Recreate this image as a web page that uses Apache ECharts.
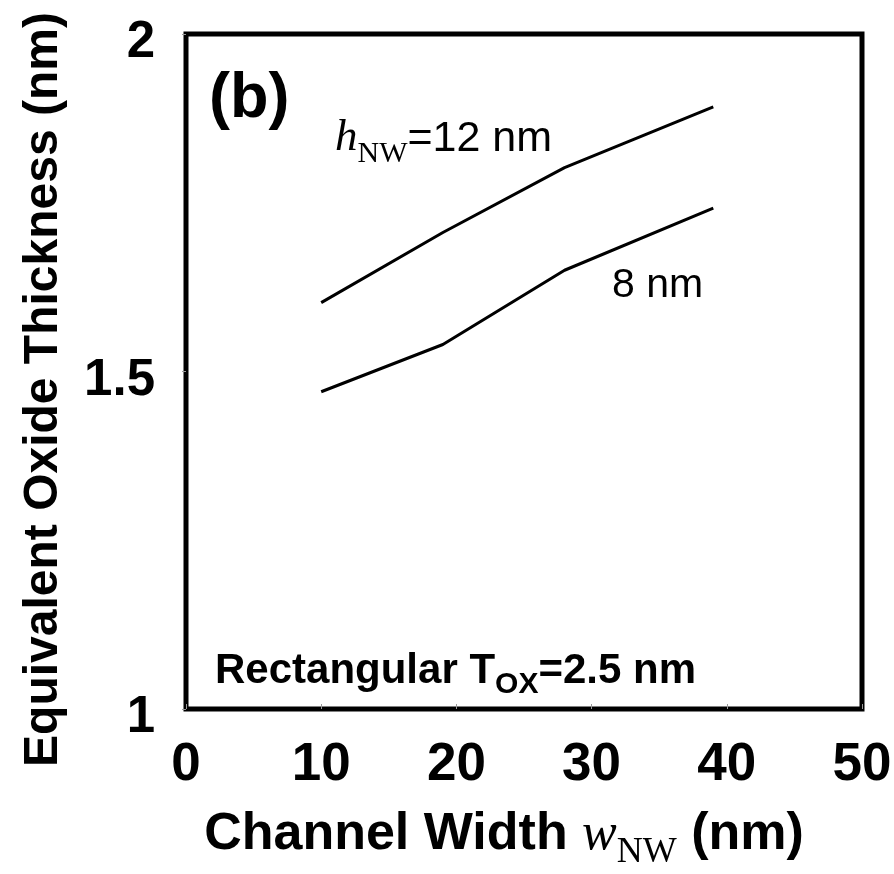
<!DOCTYPE html>
<html>
<head>
<meta charset="utf-8">
<script src="https://cdn.jsdelivr.net/npm/echarts@6/dist/echarts.min.js"></script>
<style>
  html, body { margin: 0; padding: 0; background: #fff; }
  #chart { width: 894px; height: 874px; }
</style>
</head>
<body>
<div id="chart"></div>
<script>
// channel width w_NW (nm)
const widthNW = [10, 19, 28, 39];
// EOT for h_NW = 12 nm and 8 nm
const eot12 = [1.602, 1.706, 1.802, 1.892];
const eot8 = [1.470, 1.540, 1.650, 1.742];
const xTicks = [0, 10, 20, 30, 40, 50];
const yTicks = [1, 1.5, 2];

const SANS = 'Arial, "Liberation Sans", sans-serif';
const SERIF = '"Times New Roman", "Liberation Serif", serif';

function pairs(xs, ys) {
  return xs.map(function (x, i) { return [x, ys[i]]; });
}

const chart = echarts.init(document.getElementById('chart'), null, { renderer: 'canvas' });

const option = {
  backgroundColor: '#fff',
  animation: false,
  grid: {
    left: 186, right: 32, top: 34, bottom: 165,
    containLabel: false, outerBoundsMode: 'none',
    show: true, borderColor: '#000', borderWidth: 5, backgroundColor: 'transparent'
  },
  xAxis: {
    type: 'value',
    min: xTicks[0], max: xTicks[xTicks.length - 1], interval: 10,
    splitLine: { show: false },
    axisLine: { show: false },
    axisTick: { show: true, inside: true, length: 5, lineStyle: { color: '#999', width: 1 } },
    axisLabel: { color: '#000', fontSize: 53, fontWeight: 'bold', fontFamily: SANS, margin: 30 },
    name: '{a|Channel Width }{i|w}{s|NW}{a| (nm)}',
    nameLocation: 'middle',
    nameGap: 110,
    nameTextStyle: {
      padding: [0, 40, 0, 0],
      rich: {
        a: { fontSize: 52, fontWeight: 'bold', fontFamily: SANS, color: '#000', lineHeight: 52, padding: [0, 0, 10, 0], verticalAlign: 'bottom' },
        i: { fontSize: 52, fontStyle: 'italic', fontFamily: SERIF, color: '#000', lineHeight: 52, padding: [0, 0, 10, 0], verticalAlign: 'bottom' },
        s: { fontSize: 36, fontFamily: SERIF, color: '#000', lineHeight: 36, verticalAlign: 'bottom' }
      }
    }
  },
  yAxis: {
    type: 'value',
    min: yTicks[0], max: yTicks[yTicks.length - 1], interval: 0.5,
    splitLine: { show: false },
    axisLine: { show: false },
    axisTick: { show: true, inside: false, length: 4, lineStyle: { color: '#999', width: 1 } },
    axisLabel: {
      margin: 31,
      formatter: function (v) { return '{v|' + v + '}'; },
      rich: {
        v: { color: '#000', fontSize: 51, fontWeight: 'bold', fontFamily: SANS, lineHeight: 51, padding: [18, 0, 0, 0] }
      }
    },
    name: 'Equivalent Oxide Thickness (nm)',
    nameLocation: 'middle',
    nameGap: 118,
    nameTextStyle: { color: '#000', fontSize: 48, fontWeight: 'bold', fontFamily: SANS, padding: [0, 36, 0, 0] }
  },
  series: [
    {
      name: 'hNW=12 nm', type: 'line', data: pairs(widthNW, eot12),
      symbol: 'none', lineStyle: { color: '#000', width: 3 }
    },
    {
      name: '8 nm', type: 'line', data: pairs(widthNW, eot8),
      symbol: 'none', lineStyle: { color: '#000', width: 3 }
    }
  ],
  graphic: [
    {
      type: 'text', left: 209, top: 68,
      style: { text: '(b)', font: 'bold 63px ' + SANS, fill: '#000' }
    },
    {
      type: 'text', left: 335, top: 116,
      style: {
        text: '{i|h}{s|NW}{a|=12 nm}',
        rich: {
          i: { fontSize: 45, fontStyle: 'italic', fontFamily: SERIF, fill: '#000', lineHeight: 45, padding: [0, 0, 8, 0], verticalAlign: 'bottom' },
          s: { fontSize: 30, fontFamily: SERIF, fill: '#000', lineHeight: 30, verticalAlign: 'bottom' },
          a: { fontSize: 43, fontFamily: SANS, fill: '#000', lineHeight: 43, padding: [0, 0, 8, 0], verticalAlign: 'bottom' }
        }
      }
    },
    {
      type: 'text', left: 612, top: 265,
      style: { text: '8 nm', font: '41px ' + SANS, fill: '#000' }
    },
    {
      type: 'text', left: 215, top: 650,
      style: {
        text: '{a|Rectangular T}{s|OX}{a|=2.5 nm}',
        rich: {
          a: { fontSize: 42, fontWeight: 'bold', fontFamily: SANS, fill: '#000', lineHeight: 42, padding: [0, 0, 8, 0], verticalAlign: 'bottom' },
          s: { fontSize: 30, fontWeight: 'bold', fontFamily: SANS, fill: '#000', lineHeight: 30, verticalAlign: 'bottom' }
        }
      }
    }
  ]
};

chart.setOption(option);
</script>
</body>
</html>
